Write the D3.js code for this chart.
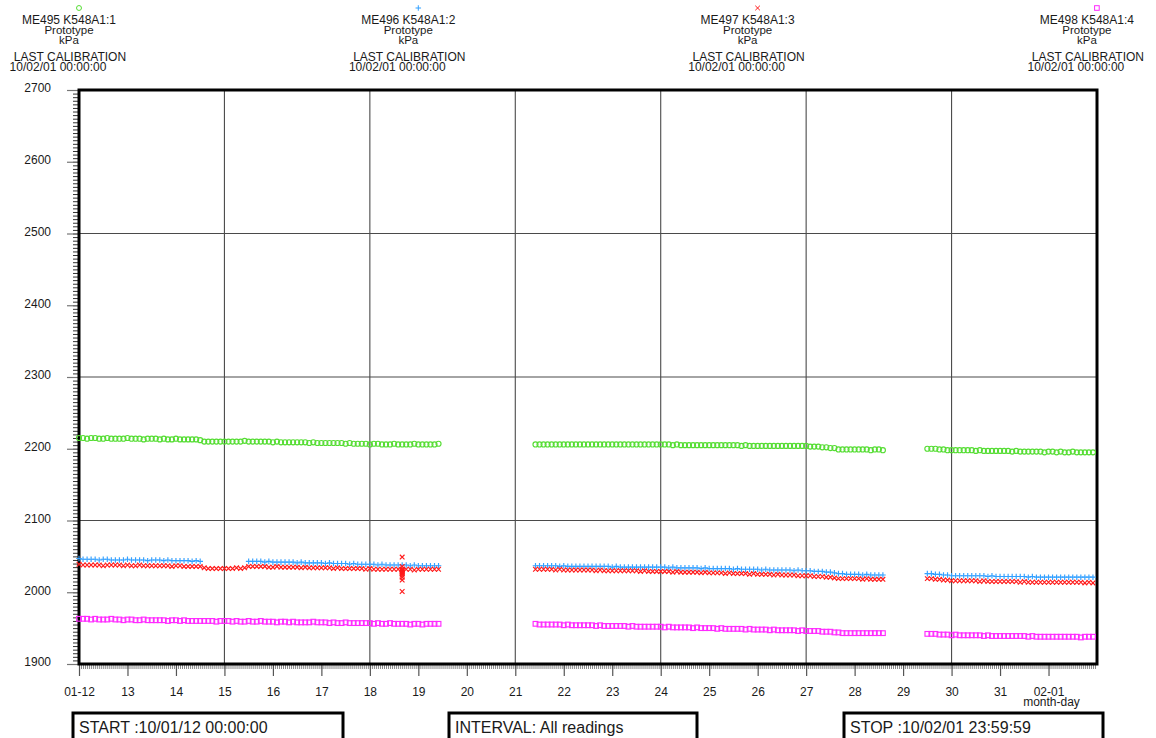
<!DOCTYPE html>
<html><head><meta charset="utf-8">
<script src="https://cdn.jsdelivr.net/npm/d3@7"></script>
<style>
body{margin:0;background:#fff}
svg{display:block}
text{font-family:"Liberation Sans",Arial,Helvetica,sans-serif;fill:#1a1a1a}
</style>
</head><body>
<svg id="chart" width="1156" height="738"></svg>
<script>
// ---------------- data ----------------
const sensorNames = ["ME495 K548A1:1", "ME496 K548A1:2", "ME497 K548A1:3", "ME498 K548A1:4"];
const sensorType = "Prototype";
const sensorUnit = "kPa";
const calibrationLabel = "LAST CALIBRATION";
const calibrationDate = "10/02/01 00:00:00";
const seriesColors = ["#55dd33", "#33a0ff", "#ff1a1a", "#ff2aff"];
const seriesSymbols = ["circle", "plus", "times", "square"];

const startDate = Date.UTC(2010, 0, 12);
const stopDate = Date.UTC(2010, 1, 2);
const segmentStartHours = [0, 226, 420];
const readingIntervalHours = 2;

const yTicks = [1900, 2000, 2100, 2200, 2300, 2400, 2500, 2600, 2700];
const yGridValues = [2100, 2300, 2500];
const xTickLabels = ["01-12","13","14","15","16","17","18","19","20","21","22","23","24","25","26","27","28","29","30","31","02-01"];
const xGridLabels = ["15","18","21","24","27","30"];
const xAxisTitle = "month-day";
const footerTexts = ["START :10/01/12 00:00:00", "INTERVAL: All readings", "STOP :10/02/01 23:59:59"];

// segment 1 (01-12 00:00 .. 01-19 10:00)
const green1 = [
2215,2215,2214,2215,2215,2214,2214,2215,2214,2214,
2214,2214,2215,2214,2214,2214,2213,2214,2214,2214,
2213,2214,2213,2213,2214,2213,2213,2213,2213,2213,
2212,2210,2210,2210,2210,2210,2210,2210,2210,2210,
2210,2211,2210,2210,2210,2210,2210,2210,2209,2210,
2209,2209,2209,2209,2209,2209,2209,2208,2209,2208,
2208,2208,2208,2208,2208,2208,2207,2208,2207,2207,
2207,2207,2206,2207,2207,2206,2206,2206,2207,2206,
2206,2206,2206,2207,2206,2206,2206,2206,2206,2207];
const blue1 = [
2047,2046,2046,2046,2046,2045,2046,2046,2045,2045,
2045,2045,2046,2045,2045,2045,2045,2044,2045,2045,
2045,2044,2045,2044,2044,2044,2044,2044,2043,2044,
2043,null,null,null,null,null,null,null,null,null,
null,null,2043,2043,2043,2043,2042,2043,2042,2042,
2042,2042,2042,2042,2041,2042,2041,2041,2041,2041,
2041,2040,2041,2040,2040,2040,2040,2039,2040,2039,
2039,2039,2039,2039,2038,2039,2038,2038,2038,2038,
2038,2038,2037,2038,2037,2037,2037,2037,2037,2037];
const red1 = [
2039,2038,2038,2038,2038,2038,2037,2038,2038,2038,
2038,2037,2038,2037,2037,2038,2037,2037,2037,2037,
2037,2037,2037,2036,2037,2037,2036,2036,2036,2036,
2036,2034,2033,2033,2033,2033,2033,2033,2033,2034,
2033,2034,2036,2036,2036,2036,2036,2035,2035,2036,
2035,2035,2035,2035,2035,2034,2035,2034,2034,2034,
2034,2034,2034,2033,2034,2033,2033,2033,2033,2033,
2033,2032,2033,2032,2032,2032,2032,2032,2032,2032,
2032,2032,2032,2031,2032,2032,2032,2032,2032,2032];
const magenta1 = [
1963,1963,1963,1962,1963,1962,1962,1962,1963,1962,
1962,1961,1962,1962,1961,1961,1962,1961,1961,1961,
1961,1961,1960,1961,1961,1960,1961,1960,1960,1960,
1960,1960,1960,1960,1959,1960,1960,1960,1959,1960,
1959,1959,1960,1959,1959,1960,1959,1959,1959,1958,
1959,1959,1958,1959,1958,1958,1958,1958,1959,1958,
1958,1958,1957,1958,1957,1957,1958,1957,1957,1957,
1957,1957,1957,1956,1957,1956,1956,1957,1956,1956,
1956,1956,1955,1956,1956,1955,1956,1956,1956,1956];

// segment 2 (01-21 10:00 .. 01-28 14:00)
const green2 = [
2206,2206,2206,2206,2206,2206,2206,2206,2206,2206,
2206,2206,2206,2206,2206,2206,2206,2206,2206,2206,
2206,2206,2206,2206,2206,2206,2206,2206,2206,2206,
2206,2206,2206,2206,2205,2206,2205,2205,2205,2205,
2205,2205,2205,2205,2205,2205,2205,2205,2205,2205,
2205,2204,2205,2204,2204,2204,2204,2204,2204,2204,
2204,2204,2204,2204,2204,2204,2204,2204,2203,2203,
2203,2202,2202,2201,2201,2199,2199,2199,2199,2199,
2199,2199,2199,2198,2199,2199,2198];
const blue2 = [
2037,2037,2037,2037,2037,2037,2036,2037,2036,2036,
2036,2036,2036,2036,2036,2036,2036,2036,2036,2035,
2036,2035,2035,2035,2035,2035,2035,2035,2035,2035,
2035,2035,2035,2034,2035,2034,2034,2034,2034,2034,
2034,2033,2034,2033,2033,2033,2033,2033,2033,2032,
2033,2032,2032,2032,2032,2032,2031,2032,2031,2031,
2031,2031,2031,2031,2030,2031,2030,2030,2030,2029,
2029,2029,2028,2028,2027,2026,2026,2025,2025,2025,
2025,2024,2025,2024,2024,2024,2024];
const red2 = [
2032,2032,2032,2032,2032,2031,2032,2031,2031,2031,
2031,2031,2031,2031,2031,2030,2031,2030,2030,2030,
2030,2030,2030,2030,2030,2030,2029,2030,2029,2029,
2029,2029,2029,2029,2028,2029,2028,2028,2028,2028,
2028,2027,2028,2027,2027,2027,2027,2026,2027,2026,
2026,2026,2026,2025,2026,2025,2025,2025,2025,2024,
2025,2024,2024,2024,2024,2023,2023,2023,2023,2022,
2022,2022,2021,2021,2020,2019,2019,2019,2019,2019,
2019,2018,2019,2018,2018,2018,2018];
const magenta2 = [
1956,1955,1955,1955,1955,1955,1955,1954,1955,1954,
1954,1954,1954,1954,1954,1953,1954,1953,1953,1953,
1953,1953,1953,1952,1953,1952,1952,1952,1952,1952,
1952,1952,1951,1952,1951,1951,1951,1951,1951,1950,
1951,1950,1950,1950,1950,1949,1950,1949,1949,1949,
1949,1949,1948,1949,1948,1948,1948,1948,1947,1948,
1947,1947,1947,1947,1947,1946,1947,1946,1946,1946,
1946,1945,1945,1945,1944,1944,1943,1943,1943,1943,
1943,1943,1943,1943,1943,1943,1943];

// segment 3 (01-29 12:00 .. 02-01 22:00)
const green3 = [
2200,2200,2200,2199,2199,2198,2198,2198,2198,2198,
2198,2198,2197,2198,2197,2197,2197,2197,2197,2197,
2197,2196,2197,2196,2196,2196,2196,2196,2196,2195,
2196,2196,2195,2196,2195,2195,2196,2195,2195,2195,
2195,2195];
const blue3 = [
2026,2026,2025,2025,2024,2024,2023,2023,2023,2023,
2023,2023,2023,2023,2023,2022,2023,2022,2022,2022,
2022,2022,2022,2022,2022,2021,2022,2021,2021,2021,
2021,2021,2021,2021,2021,2021,2021,2021,2021,2021,
2021,2021];
const red3 = [
2019,2019,2018,2018,2017,2017,2016,2016,2016,2016,
2016,2016,2016,2015,2016,2015,2015,2015,2015,2015,
2015,2015,2015,2014,2015,2014,2014,2014,2014,2014,
2014,2014,2014,2014,2014,2014,2014,2014,2014,2013,
2014,2013];
const magenta3 = [
1942,1942,1942,1941,1941,1941,1940,1941,1940,1940,
1940,1940,1940,1940,1939,1940,1939,1939,1939,1939,
1939,1939,1939,1939,1939,1938,1939,1938,1938,1938,
1938,1938,1938,1938,1938,1938,1938,1938,1937,1938,
1938,1938];

// burst of extra red readings on 01-18
const redBurstHours = [160,160,160,160,160,160,160,160,160,160,160,160,160];
const redBurstValues = [2049,2036,2032,2031,2030,2029,2028,2027,2026,2024,2021,2017,2001];

const seriesSegments = [
  [green1, green2, green3],
  [blue1, blue2, blue3],
  [red1, red2, red3],
  [magenta1, magenta2, magenta3]
];

// ---------------- drawing ----------------
const svg = d3.select("#chart");
const plot = {left: 79, right: 1097, top: 90, bottom: 664};
const HOUR = 3600e3;

const x = d3.scaleUtc().domain([startDate, stopDate]).range([plot.left, plot.right]);
const y = d3.scaleLinear().domain([1900, 2700]).range([plot.bottom, plot.top]);

const majorDates = xTickLabels.map((_, i) => new Date(Date.UTC(2010, 0, 12 + i)));
const gridDates = xGridLabels.map(l => majorDates[xTickLabels.indexOf(l)]);

// symbol generators
const symbolDraw = {
  circle: (g, s) => g.append("circle").attr("r", s * 0.45),
  plus: (g, s) => g.append("path").attr("d", `M${-s/2},0H${s/2}M0,${-s/2}V${s/2}`),
  times: (g, s) => g.append("path").attr("d", `M${-s/2.4},${-s/2.4}L${s/2.4},${s/2.4}M${-s/2.4},${s/2.4}L${s/2.4},${-s/2.4}`),
  square: (g, s) => g.append("rect").attr("x", -s*0.42).attr("y", -s*0.42).attr("width", s*0.84).attr("height", s*0.84)
};

// grid
const grid = svg.append("g").attr("stroke", "#4a4a4a").attr("stroke-width", 1.1);
grid.selectAll("line.v").data(gridDates).join("line")
  .attr("x1", d => x(d)).attr("x2", d => x(d))
  .attr("y1", plot.top).attr("y2", plot.bottom);
grid.selectAll("line.h").data(yGridValues).join("line")
  .attr("x1", plot.left).attr("x2", plot.right)
  .attr("y1", d => y(d)).attr("y2", d => y(d));

// y axis minor ticks
const yMinor = d3.range(1900, 2701, 5);
svg.append("g").attr("transform", `translate(${plot.left},0)`)
  .call(d3.axisLeft(y).tickValues(yMinor).tickSize(6).tickFormat(""))
  .call(g => g.select(".domain").remove())
  .call(g => g.selectAll("line").attr("stroke", "#333").attr("stroke-width", 1));
// y axis major
svg.append("g").attr("transform", `translate(${plot.left},0)`)
  .call(d3.axisLeft(y).tickValues(yTicks).tickSize(12).tickPadding(16).tickFormat(d3.format("d")))
  .call(g => g.select(".domain").remove())
  .call(g => g.selectAll("line").attr("stroke", "#777").attr("stroke-width", 1.2))
  .call(g => g.selectAll("text").attr("font-size", 12).attr("fill", "#222")
      .attr("dy", "0.15em").attr("font-family", "Liberation Sans, Arial, sans-serif"));

// x axis minor ticks (hourly)
const xMinor = d3.utcHour.every(1).range(new Date(startDate), new Date(stopDate));
svg.append("g").attr("transform", `translate(0,${plot.bottom})`)
  .call(d3.axisBottom(x).tickValues(xMinor).tickSize(5).tickFormat(""))
  .call(g => g.select(".domain").remove())
  .call(g => g.selectAll("line").attr("stroke", "#555").attr("stroke-width", 0.7));
// x axis major
svg.append("g").attr("transform", `translate(0,${plot.bottom})`)
  .call(d3.axisBottom(x).tickValues(majorDates).tickSize(12).tickPadding(11)
    .tickFormat((d, i) => xTickLabels[i]))
  .call(g => g.select(".domain").remove())
  .call(g => g.selectAll("line").attr("stroke", "#555").attr("stroke-width", 1.2))
  .call(g => g.selectAll("text").attr("font-size", 12).attr("fill", "#222")
      .attr("font-family", "Liberation Sans, Arial, sans-serif"));

svg.append("text").attr("x", x(majorDates[majorDates.length - 1]) + 3).attr("y", 706)
  .attr("text-anchor", "middle").attr("font-size", 12).text(xAxisTitle);

// frame
svg.append("rect").attr("x", plot.left).attr("y", plot.top)
  .attr("width", plot.right - plot.left).attr("height", plot.bottom - plot.top)
  .attr("fill", "none").attr("stroke", "#000").attr("stroke-width", 3);

// data
const dataG = svg.append("g");
seriesSegments.forEach((segs, si) => {
  const pts = [];
  segs.forEach((vals, k) => vals.forEach((v, i) => {
    if (v != null) pts.push({t: new Date(startDate + (segmentStartHours[k] + i * readingIntervalHours) * HOUR), v});
  }));
  if (si === 2) redBurstHours.forEach((h, i) => pts.push({t: new Date(startDate + h * HOUR), v: redBurstValues[i]}));
  const g = dataG.append("g").attr("fill", "none").attr("stroke", seriesColors[si]).attr("stroke-width", 1.15);
  pts.forEach(p => {
    const mg = g.append("g").attr("transform", `translate(${x(p.t)},${y(p.v)})`);
    symbolDraw[seriesSymbols[si]](mg, 5.6);
  });
});

// header legend
const header = svg.append("g");
sensorNames.forEach((name, i) => {
  const cx = 69 + i * 339.3;
  const mg = header.append("g").attr("transform", `translate(${cx + 10},8)`)
    .attr("fill", "none").attr("stroke", seriesColors[i]).attr("stroke-width", 1);
  symbolDraw[seriesSymbols[i]](mg, 5.5);
  const t = header.append("g").attr("text-anchor", "middle");
  t.append("text").attr("x", cx).attr("y", 24).attr("font-size", 12).text(name);
  t.append("text").attr("x", cx).attr("y", 34).attr("font-size", 11.5).text(sensorType);
  t.append("text").attr("x", cx).attr("y", 44).attr("font-size", 11.5).text(sensorUnit);
  t.append("text").attr("x", cx + 1).attr("y", 61).attr("font-size", 12).text(calibrationLabel);
  t.append("text").attr("x", cx - 11).attr("y", 71).attr("font-size", 12).text(calibrationDate);
});

// footer boxes
const boxes = [[73, 343], [449, 697], [844, 1103]];
footerTexts.forEach((txt, i) => {
  const [l, r] = boxes[i];
  svg.append("rect").attr("x", l).attr("y", 713).attr("width", r - l).attr("height", 40)
    .attr("fill", "none").attr("stroke", "#000").attr("stroke-width", 3);
  svg.append("text").attr("x", l + 6).attr("y", 733).attr("font-size", 16).text(txt);
});
</script>
</body></html>
